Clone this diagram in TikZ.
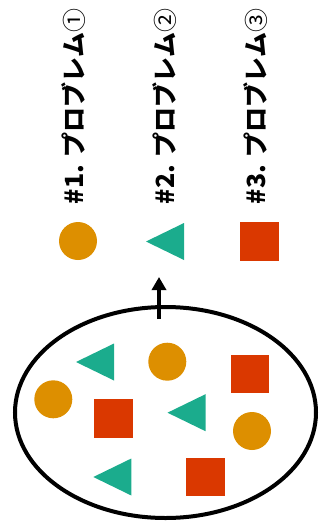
\documentclass[tikz,border=0pt]{standalone}
\usepackage{fontspec}
\newfontfamily\jpfont{Noto Sans CJK JP}
\usetikzlibrary{arrows.meta,shapes.geometric}
\definecolor{dotorange}{HTML}{DD8F00}
\definecolor{triteal}{HTML}{1BAC8D}
\definecolor{boxred}{HTML}{DA3800}
\newcommand\thinmark[1]{{\mdseries\fontsize{24}{24}\selectfont #1}}
\tikzset{
  dot/.style={circle,fill=dotorange,minimum size=38pt,inner sep=0pt,outer sep=0pt},
  box/.style={rectangle,fill=boxred,minimum size=38.5pt,inner sep=0pt,outer sep=0pt},
  pool/.style={ellipse,draw=black,line width=4pt,minimum width=301pt,minimum height=211pt,inner sep=0pt},
  label/.style={rotate=90,font=\jpfont\bfseries\fontsize{25}{25}\selectfont,inner sep=0pt},
  lefttri/.pic={\fill[triteal] (0,0) -- (38,-18.5) -- (38,18.5) -- cycle;},
  liftarrow/.style={-{Triangle[width=14pt,length=13pt]},line width=4pt}
}
\begin{document}
\begin{tikzpicture}[x=1pt,y=-1pt]
\useasboundingbox (0,0) rectangle (320,528);
% problem labels
\node[label] (l1) at (74,106.5) {\#1. プロブレム\thinmark{①}};
\node[label] (l2) at (164.5,106.5) {\#2. プロブレム\thinmark{②}};
\node[label] (l3) at (256,106.5) {\#3. プロブレム\thinmark{③}};
% legend shapes
\node[dot] (k1) at (78,241) {};
\pic at (146,241.5) {lefttri};
\coordinate (k2) at (165,260);
\node[box] (k3) at (259.5,241.5) {};
% mixed pool
\node[pool] (mix) at (165.5,412.5) {};
\pic at (76,362) {lefttri};
\node[dot] at (167.3,361.7) {};
\node[box] at (250,374.2) {};
\node[dot] at (53.3,399.3) {};
\node[box] at (113.5,418.3) {};
\pic at (167.5,412.7) {lefttri};
\node[dot] at (252,431) {};
\pic at (93.3,477) {lefttri};
\node[box] at (205.3,476.8) {};
% arrow out of the pool
\coordinate (src) at (159,319);
\coordinate (dst) at (159,277);
\draw[liftarrow] (src) -- (dst);
\end{tikzpicture}
\end{document}
